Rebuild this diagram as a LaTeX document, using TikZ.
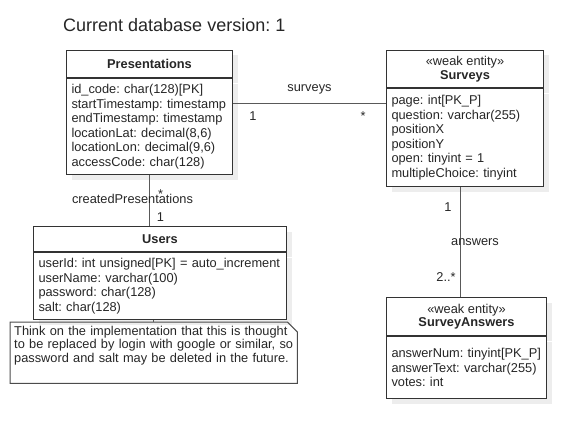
\documentclass[tikz,border=0pt]{standalone}
\usepackage{fontspec}
\setmainfont{Liberation Sans}
\usetikzlibrary{shadows}
\frenchspacing
\begin{document}
\begin{tikzpicture}[x=1pt, y=-1pt,
  font=\fontsize{12.8}{14.5}\selectfont, text=black!85,
  box/.style={draw=black!80, line width=1pt, fill=white, anchor=north west, inner sep=0pt,
    drop shadow={shadow xshift=5pt, shadow yshift=-5pt, fill=black!7, opacity=1}},
  hdr/.style={box, align=center, font=\fontsize{12.8}{13.4}\selectfont},
  attrs/.style={box, align=left, inner xsep=5pt, execute at begin node={\hyphenpenalty=10000}},
  notebox/.style={anchor=north west, align=left, inner xsep=4pt, inner ysep=0pt,
    font=\fontsize{12.8}{13.4}\selectfont, execute at begin node={\hyphenpenalty=10000}},
  link/.style={draw=black!65, line width=1pt},
  lbl/.style={inner sep=0pt}]
\useasboundingbox (0,0) rectangle (586,428);
\node[anchor=west, inner sep=0pt] (title) at (63,25) {\fontsize{18}{20}\selectfont Current database version: 1};
\node[hdr, minimum width=166, minimum height=27] (pres) at (66,50) {\textbf{Presentations}};
\node[attrs, text width=156pt, minimum height=96] (presattr) at (pres.south west) {id\_code: char(128)[PK]\\startTimestamp: timestamp\\endTimestamp: timestamp\\locationLat: decimal(8,6)\\locationLon: decimal(9,6)\\accessCode: char(128)};
\node[hdr, minimum width=157, minimum height=37] (surv) at (386,50) {«weak entity»\\\textbf{Surveys}};
\node[attrs, text width=147pt, minimum height=98] (survattr) at (surv.south west) {page: int[PK\_P]\\question: varchar(255)\\positionX\\positionY\\open: tinyint = 1\\multipleChoice: tinyint};
\node[hdr, minimum width=253, minimum height=25] (users) at (33,226) {\textbf{Users}};
\node[attrs, text width=243pt, minimum height=67] (usersattr) at (users.south west) {userId: int unsigned[PK] = auto\_increment\\userName: varchar(100)\\password: char(128)\\salt: char(128)};
\node[hdr, minimum width=160, minimum height=38] (answ) at (386,297) {«weak entity»\\\textbf{SurveyAnswers}};
\node[attrs, text width=150pt, minimum height=62] (answattr) at (answ.south west) {answerNum: tinyint[PK\_P]\\answerText: varchar(255)\\votes: int};
\node[notebox, text width=279pt, minimum height=61] (note) at (10,322) {Think on the implementation that this is thought\\to be replaced by login with google or similar, so\\password and salt may be deleted in the future.\\ \strut};
\draw[draw=black!70, line width=1pt] (note.north west) -- ([xshift=-10pt]note.north east) -- ([yshift=-10pt]note.north east) -- (note.south east) -- (note.south west) -- cycle;
\draw[link] ([yshift=-25pt]presattr.north east) -- ([yshift=-25pt]presattr.north east -| survattr.west)
  node[lbl, pos=0.5, yshift=14pt] {surveys}
  node[lbl, at start, xshift=20pt, yshift=-13pt] {1}
  node[lbl, at end, xshift=-23pt, yshift=-13pt] {*};
\draw[link] (presattr.south) -- (presattr.south |- users.north)
  node[lbl, at start, xshift=11pt, yshift=-19pt] {*}
  node[lbl, at start, xshift=-17pt, yshift=-24pt] {createdPresentations}
  node[lbl, at end, xshift=11pt, yshift=9pt] {1};
\draw[link] ([xshift=-5pt]survattr.south) -- ([xshift=-5pt]survattr.south |- answ.north)
  node[lbl, at start, xshift=-12pt, yshift=-20pt] {1}
  node[lbl, pos=0.5, xshift=15pt] {answers}
  node[lbl, at end, xshift=-14pt, yshift=20pt] {2..*};
\draw[link] (note.north) -- (note.north |- usersattr.south);
\end{tikzpicture}
\end{document}
